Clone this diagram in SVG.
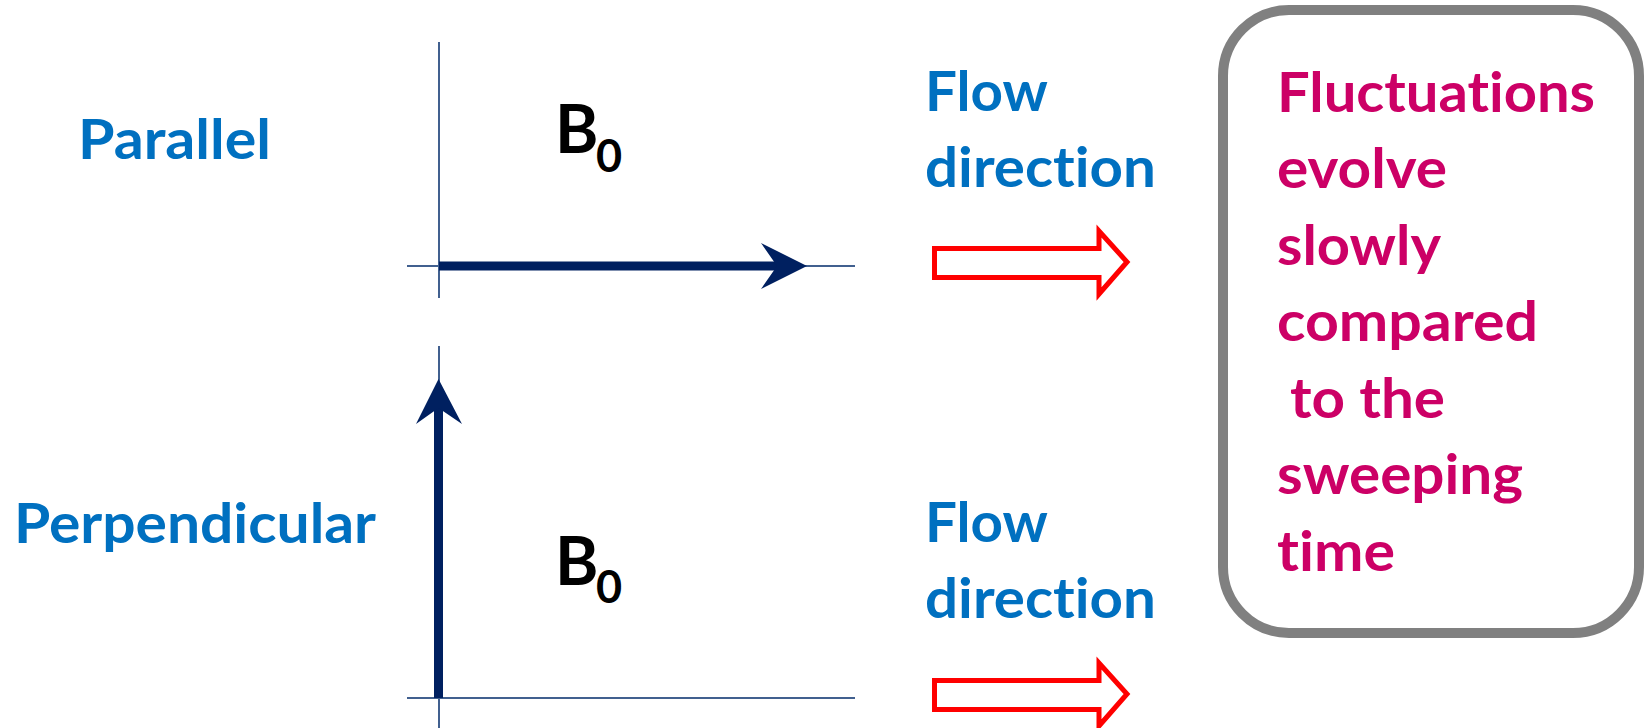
<svg xmlns="http://www.w3.org/2000/svg" width="1646" height="728" viewBox="0 0 1646 728">
<style>
text{font-variant-ligatures:none;font-feature-settings:"liga" 0,"clig" 0}
.lbl{font-family:Lato,"Open Sans","Liberation Sans",sans-serif;font-weight:bold;font-size:56px}
.blue{fill:#0070C0}
.mag{fill:#CC0066}
.b{font-family:Lato,"Open Sans","Liberation Sans",sans-serif;font-weight:bold;fill:#000}
.axis{stroke:#41608F;stroke-width:2;fill:none}
.vec{stroke:#002060;stroke-width:9;fill:none}
.head{fill:#002060}
.flow{fill:#fff;stroke:#FF0000;stroke-width:5;stroke-linejoin:miter}
</style>
<rect width="1646" height="728" fill="#fff"/>
<g id="label-parallel"><text class="lbl blue" x="78" y="159" textLength="193" lengthAdjust="spacingAndGlyphs">Parallel</text></g>
<g id="label-perpendicular"><text class="lbl blue" x="14" y="543" textLength="362" lengthAdjust="spacingAndGlyphs">Perpendicular</text></g>
<g id="axes-parallel">
<line class="axis" x1="439" y1="42" x2="439" y2="298"/>
<line class="axis" x1="407" y1="266" x2="855" y2="266"/>
</g>
<g id="axes-perpendicular">
<line class="axis" x1="439" y1="346" x2="439" y2="728"/>
<line class="axis" x1="407" y1="698" x2="855" y2="698"/>
</g>
<g id="b0-parallel"><text class="b" x="555" y="153" font-size="66">B</text><text class="b" x="596" y="172" font-size="45">0</text></g>
<g id="b0-perpendicular"><text class="b" x="555" y="585" font-size="66">B</text><text class="b" x="596" y="603" font-size="45">0</text></g>
<g id="flow-top">
<text class="lbl blue" x="925" y="111" textLength="123" lengthAdjust="spacingAndGlyphs">Flow</text>
<text class="lbl blue" x="925" y="187" textLength="231" lengthAdjust="spacingAndGlyphs">direction</text>
</g>
<g id="flow-bottom">
<text class="lbl blue" x="925" y="542" textLength="123" lengthAdjust="spacingAndGlyphs">Flow</text>
<text class="lbl blue" x="925" y="618" textLength="231" lengthAdjust="spacingAndGlyphs">direction</text>
</g>
<g id="note">
<rect x="1223" y="10" width="416" height="623" rx="66" ry="66" fill="#fff" stroke="#808080" stroke-width="10"/>
<text class="lbl mag" x="1277" y="112" textLength="318" lengthAdjust="spacingAndGlyphs">Fluctuations</text>
<text class="lbl mag" x="1277" y="188" textLength="170" lengthAdjust="spacingAndGlyphs">evolve</text>
<text class="lbl mag" x="1277" y="265" textLength="164" lengthAdjust="spacingAndGlyphs">slowly</text>
<text class="lbl mag" x="1277" y="341" textLength="261" lengthAdjust="spacingAndGlyphs">compared</text>
<text class="lbl mag" x="1290" y="418" textLength="155" lengthAdjust="spacingAndGlyphs">to the</text>
<text class="lbl mag" x="1277" y="494" textLength="246" lengthAdjust="spacingAndGlyphs">sweeping</text>
<text class="lbl mag" x="1277" y="571" textLength="118" lengthAdjust="spacingAndGlyphs">time</text>
</g>
<g id="connectors">
<line class="vec" x1="439" y1="266" x2="780" y2="266"/>
<polygon class="head" points="807,266 761,243 777,266 761,289"/>
<line class="vec" x1="438.5" y1="698" x2="438.5" y2="404"/>
<polygon class="head" points="438.5,379 416,424 438.5,408 462,424"/>
<polygon class="flow" points="934.5,248.5 1099,248.5 1099,231 1127,262 1099,294 1099,277.5 934.5,277.5"/>
<polygon class="flow" points="934.5,680.5 1099,680.5 1099,663 1127,694 1099,726 1099,709.5 934.5,709.5"/>
</g>
</svg>
